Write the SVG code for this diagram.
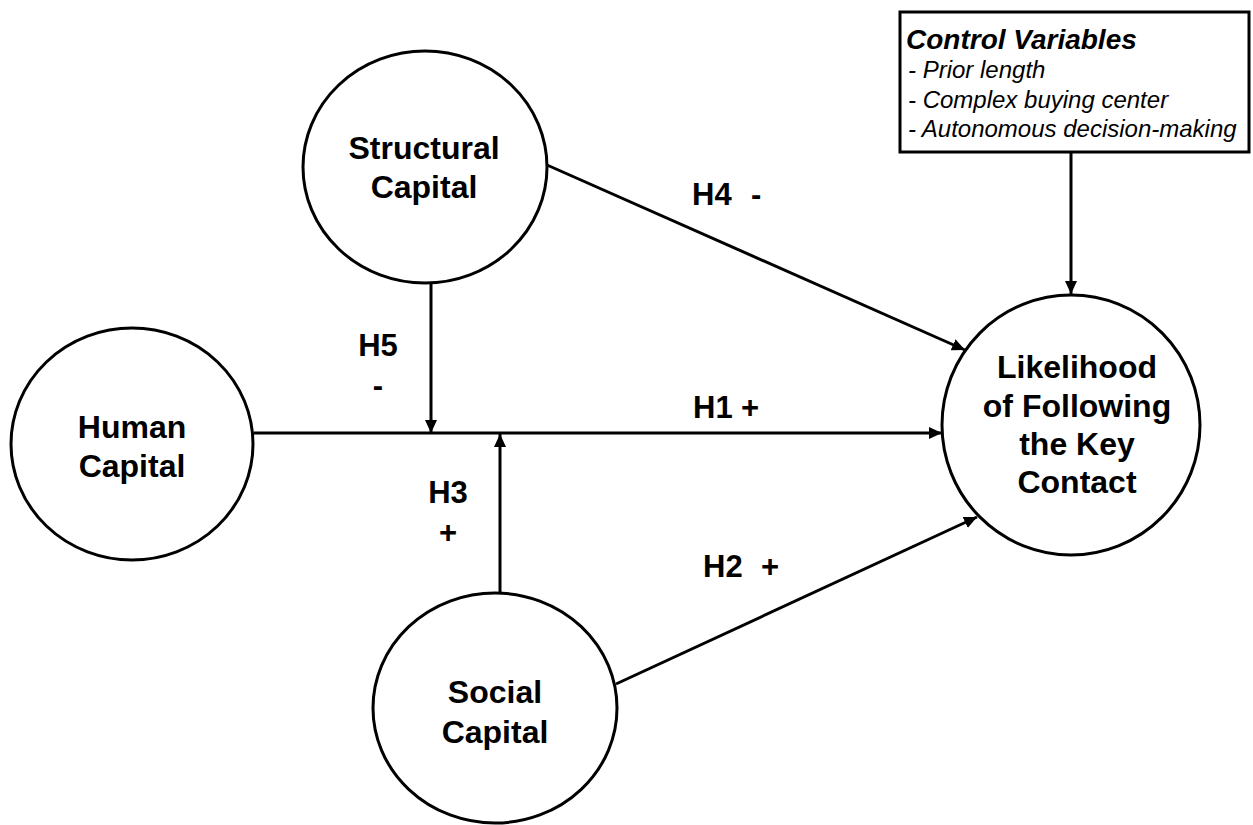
<svg xmlns="http://www.w3.org/2000/svg" width="1253" height="825" viewBox="0 0 1253 825">
<style>
.node{fill:#fff;stroke:#000;stroke-width:3}
.lbl{font-family:"Liberation Sans",Arial,sans-serif;font-weight:bold;font-size:32px;fill:#000;text-anchor:middle}
.h{font-family:"Liberation Sans",Arial,sans-serif;font-weight:bold;font-size:31px;fill:#000}
.edge{stroke:#000;stroke-width:3;fill:none}
.box{fill:#fff;stroke:#000;stroke-width:3}
.ct{font-family:"Liberation Sans",Arial,sans-serif;font-style:italic;fill:#000}
</style>
<defs>
<marker id="ah" markerWidth="13" markerHeight="12" refX="13" refY="6" orient="auto" markerUnits="userSpaceOnUse">
<path d="M0,0 L13,6 L0,12 Z" fill="#000"/>
</marker>
</defs>
<rect width="1253" height="825" fill="#fff"/>
<g id="connectors">
<line class="edge" x1="254" y1="433" x2="942" y2="433" marker-end="url(#ah)"/>
<line class="edge" x1="431" y1="283" x2="431" y2="433" marker-end="url(#ah)"/>
<line class="edge" x1="500" y1="593" x2="500" y2="434" marker-end="url(#ah)"/>
<line class="edge" x1="547" y1="165" x2="965" y2="350" marker-end="url(#ah)"/>
<line class="edge" x1="616" y1="684" x2="977" y2="517" marker-end="url(#ah)"/>
<line class="edge" x1="1071" y1="152" x2="1071" y2="294" marker-end="url(#ah)"/>
</g>
<g id="human">
<ellipse class="node" cx="132" cy="444" rx="121" ry="116"/>
<text class="lbl" x="132" y="438">Human</text>
<text class="lbl" x="132" y="477">Capital</text>
</g>
<g id="structural">
<ellipse class="node" cx="425" cy="167" rx="122" ry="116"/>
<text class="lbl" x="424" y="159">Structural</text>
<text class="lbl" x="424" y="198">Capital</text>
</g>
<g id="social">
<ellipse class="node" cx="495" cy="708" rx="122" ry="115"/>
<text class="lbl" x="495" y="703">Social</text>
<text class="lbl" x="495" y="743">Capital</text>
</g>
<g id="likelihood">
<ellipse class="node" cx="1071" cy="425" rx="129" ry="130"/>
<text class="lbl" x="1077" y="378">Likelihood</text>
<text class="lbl" x="1077" y="417">of Following</text>
<text class="lbl" x="1077" y="455">the Key</text>
<text class="lbl" x="1077" y="493">Contact</text>
</g>
<g id="control">
<rect class="box" x="900" y="12" width="349" height="140"/>
<text class="ct" x="906" y="49" font-size="28" font-weight="bold">Control Variables</text>
<text class="ct" x="908" y="78" font-size="24">- Prior length</text>
<text class="ct" x="908" y="108" font-size="24">- Complex buying center</text>
<text class="ct" x="908" y="137" font-size="24">- Autonomous decision-making</text>
</g>
<g id="labels">
<text class="h" x="692" y="205">H4<tspan x="751">-</tspan></text>
<text class="h" x="693" y="418">H1<tspan x="741">+</tspan></text>
<text class="h" x="703" y="577">H2<tspan x="761">+</tspan></text>
<text class="h" x="378" y="356" text-anchor="middle">H5<tspan x="378" y="396">-</tspan></text>
<text class="h" x="448" y="503" text-anchor="middle">H3<tspan x="448" y="543">+</tspan></text>
</g>
</svg>
